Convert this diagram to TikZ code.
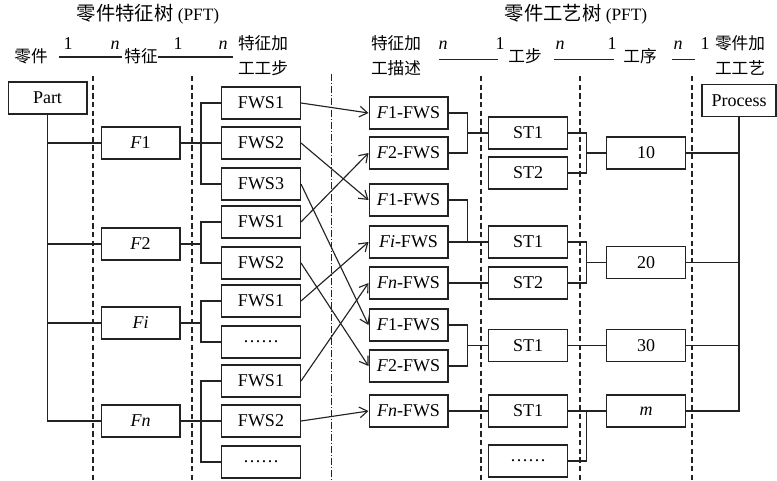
\documentclass[tikz,border=0pt]{standalone}
\usepackage{fontspec}
\setmainfont{Liberation Serif}
\newfontfamily\cjk{Noto Sans CJK SC}
\usetikzlibrary{arrows.meta,calc}
\definecolor{ln}{RGB}{35,35,35}
\begin{document}
\begin{tikzpicture}[x=0.75pt,y=-0.75pt,
  box/.style={draw=ln, line width=1pt, minimum width=59pt, minimum height=24pt, inner sep=0pt, font=\fontsize{13.5}{15}\selectfont},
  conn/.style={draw=ln, line width=0.85pt},
  arr/.style={conn, -{Straight Barb[length=6pt,width=8pt]}},
  div/.style={draw=ln, line width=0.8pt, dash pattern=on 4pt off 2.5pt},
  divdot/.style={draw=ln, line width=0.7pt, dash pattern=on 5pt off 1.5pt on 1pt off 1.5pt},
  cn/.style={font=\cjk\fontsize{12.5}{18.75}\selectfont, inner sep=0pt, align=center},
  ttl/.style={font=\fontsize{13}{15}\selectfont, inner sep=0pt},
  lab/.style={font=\fontsize{13.5}{15}\selectfont, inner sep=0pt, anchor=base}]
\useasboundingbox (0,0) rectangle (777,481);

% titles
\node[ttl] (t1) at (148,14) {{\cjk\fontsize{14.5}{15}\selectfont 零件特征树} (PFT)};
\node[ttl] (t2) at (576,14) {{\cjk\fontsize{14.5}{15}\selectfont 零件工艺树} (PFT)};

% header row
\node[cn] (h1) at (31,56) {零件};
\node[cn] (h2) at (141,56) {特征};
\node[cn] (h3) at (263,55.5) {特征加\\工工步};
\node[cn] (h4) at (396,55.5) {特征加\\工描述};
\node[cn] (h5) at (525,56) {工步};
\node[cn] (h6) at (640,56) {工序};
\node[cn] (h7) at (740,55.5) {零件加\\工工艺};

\draw[conn] ($(h1.east)+(11,1)$) -- ($(h2.west)+(-2,1)$);
\draw[conn] ($(h2.east)+(0,1)$) -- ($(h3.west |- h2.east)+(-5,1)$);
\draw[conn] ($(h4.east)+(18,4)$) -- ($(h5.west)+(-10,3.5)$);
\draw[conn] ($(h5.east)+(12,3.5)$) -- ($(h6.west)+(-9,3.5)$);
\draw[conn] ($(h6.east)+(15,3.5)$) -- ($(h7.west)+(-20,4)$);

\node[lab] (n1) at (68,50) {1};
\node[lab] (n2) at (115,50) {\textit{n}};
\node[lab] (n3) at (178,50) {1};
\node[lab] (n4) at (223,50) {\textit{n}};
\node[lab] (n5) at (443,50) {\textit{n}};
\node[lab] (n6) at (500,50) {1};
\node[lab] (n7) at (560,50) {\textit{n}};
\node[lab] (n8) at (612,50) {1};
\node[lab] (n9) at (678,50) {\textit{n}};
\node[lab] (n10) at (705,50) {1};

% dividers
\draw[div] (93,76) -- (93,481);
\draw[div] (192,76) -- (192,481);
\draw[divdot] (331,74) -- (331,481);
\draw[div] (481,76) -- (481,481);
\draw[div] (580,76) -- (580,481);
\draw[div] (692,76) -- (692,481);

% column coordinates
\coordinate (cA) at (201,0);
\coordinate (cB) at (467.5,0);
\coordinate (cC) at (586.5,0);

% part and features
\node[box] (part) at (47.5,98) {Part};
\node[box] (F1) at (140.5,143) {\textit{F}1};
\node[box] (F2) at (140.5,244) {\textit{F}2};
\node[box] (Fi) at (140.5,323) {\textit{Fi}};
\node[box] (Fn) at (140.5,421) {\textit{Fn}};

% feature working steps
\node[box] (a1) at (261,103) {FWS1};
\node[box] (a2) at (261,143) {FWS2};
\node[box] (a3) at (261,184) {FWS3};
\node[box] (a4) at (261,222) {FWS1};
\node[box] (a5) at (261,263) {FWS2};
\node[box] (a6) at (261,301) {FWS1};
\node[box] (a7) at (261,342) {……};
\node[box] (a8) at (261,381) {FWS1};
\node[box] (a9) at (261,421) {FWS2};
\node[box] (a10) at (261,462) {……};

% descriptions
\node[box] (d1) at (408.5,113) {\textit{F}1-FWS};
\node[box] (d2) at (408.5,153) {\textit{F}2-FWS};
\node[box] (d3) at (408.5,200) {\textit{F}1-FWS};
\node[box] (d4) at (408.5,242) {\textit{Fi}-FWS};
\node[box] (d5) at (408.5,283) {\textit{Fn}-FWS};
\node[box] (d6) at (408.5,325) {\textit{F}1-FWS};
\node[box] (d7) at (408.5,366) {\textit{F}2-FWS};
\node[box] (d8) at (408.5,411) {\textit{Fn}-FWS};

% steps
\node[box] (s1) at (528,133) {ST1};
\node[box] (s2) at (528,173) {ST2};
\node[box] (s3) at (528,242) {ST1};
\node[box] (s4) at (528,283) {ST2};
\node[box] (s5) at (528,345.5) {ST1};
\node[box] (s6) at (528,411) {ST1};
\node[box] (s7) at (528,461) {……};

% operations
\node[box] (o1) at (646,153) {10};
\node[box] (o2) at (646,262.5) {20};
\node[box] (o3) at (646,345.5) {30};
\node[box] (o4) at (646,411) {\textit{m}};
\node[box, minimum width=55.5pt] (proc) at (739,100.5) {Process};

% part tree
\draw[conn] (part.south) |- (Fn.west);
\foreach \f in {F1,F2,Fi} \draw[conn] (part.south |- \f) -- (\f.west);

\draw[conn] (a1.west) -| (cA |- a3) -- (a3.west);
\draw[conn] (F1.east) -- (a2.west);
\draw[conn] (a4.west) -| (cA |- a5) -- (a5.west);
\draw[conn] (F2.east) -- (F2 -| cA);
\draw[conn] (a6.west) -| (cA |- a7) -- (a7.west);
\draw[conn] (Fi.east) -- (Fi -| cA);
\draw[conn] (a8.west) -| (cA |- a10) -- (a10.west);
\draw[conn] (Fn.east) -- (a9.west);

% mapping arrows
\draw[arr] (a1.east) -- (d1.west);
\draw[arr] (a2.east) -- (d3.west);
\draw[arr] (a3.east) -- (d6.west);
\draw[arr] (a4.east) -- (d2.west);
\draw[arr] (a5.east) -- (d7.west);
\draw[arr] (a6.east) -- (d4.west);
\draw[arr] (a8.east) -- (d5.west);
\draw[arr] (a9.east) -- (d8.west);

% descriptions to steps
\draw[conn] (d1.east) -| (cB |- d2) -- (d2.east);
\draw[conn] (cB |- s1) -- (s1.west);
\draw[conn] (d3.east) -| (cB |- d4);
\draw[conn] (d4.east) -- (s3.west);
\draw[conn] (d5.east) -- (s4.west);
\draw[conn] (d6.east) -| (cB |- d7) -- (d7.east);
\draw[conn] (cB |- s5) -- (s5.west);
\draw[conn] (d8.east) -- (s6.west);

% steps to operations
\draw[conn] (s1.east) -| (cC |- s2) -- (s2.east);
\draw[conn] (cC |- o1) -- (o1.west);
\draw[conn] (s3.east) -| (cC |- s4) -- (s4.east);
\draw[conn] (cC |- o2) -- (o2.west);
\draw[conn] (s5.east) -- (o3.west);
\draw[conn] (s6.east) -- (o4.west);
\draw[conn] (s7.east) -| (cC |- s6);

% operations to process
\draw[conn] (proc.south) |- (o4.east);
\foreach \o in {o1,o2,o3} \draw[conn] (\o.east) -- (proc.south |- \o);
\end{tikzpicture}
\end{document}
